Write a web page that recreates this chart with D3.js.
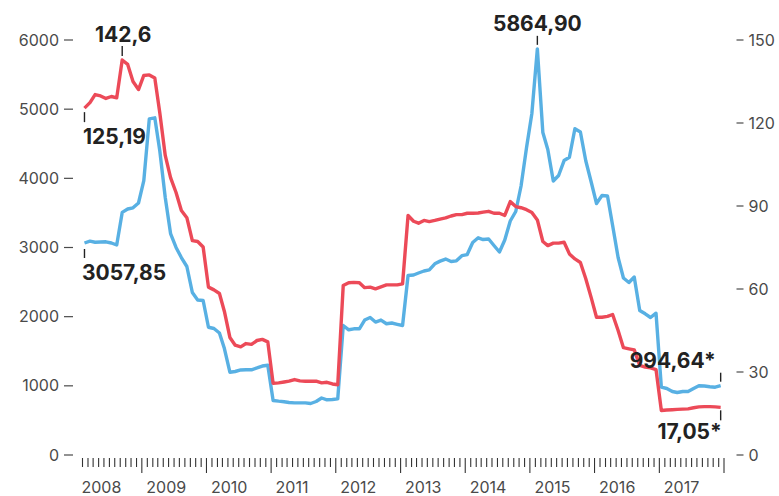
<!DOCTYPE html>
<html>
<head>
<meta charset="utf-8">
<script src="https://cdn.jsdelivr.net/npm/d3@7"></script>
<style>
  html, body { margin: 0; padding: 0; background: #fff; }
  svg { display: block; }
  .tick text { font-family: Inter, "DejaVu Sans", sans-serif; }
</style>
</head>
<body>
<svg id="chart" width="779" height="496"></svg>
<script>
// ---- Data (monthly, Jan 2008 – Nov 2017) ----
const startYear = 2008, startMonth = 0, monthCount = 119;
const years = [2008, 2009, 2010, 2011, 2012, 2013, 2014, 2015, 2016, 2017];
const leftTicks = [0, 1000, 2000, 3000, 4000, 5000, 6000];
const rightTicks = [0, 30, 60, 90, 120, 150];

// Blue series (left axis)
const blueValues = [
  3057.85, 3084, 3069, 3072, 3075, 3058, 3029, 3500, 3549, 3567,
  3636, 3961, 4853, 4868, 4395, 3715, 3195, 2993, 2848, 2718,
  2342, 2234, 2226, 1840, 1822, 1757, 1532, 1190, 1200, 1222,
  1225, 1225, 1251, 1279, 1290, 781, 771, 763, 752, 747,
  747, 747, 737, 766, 817, 791, 795, 805, 1865, 1803,
  1817, 1817, 1944, 1981, 1915, 1944, 1890, 1901, 1882, 1865,
  2588, 2595, 2624, 2653, 2670, 2757, 2796, 2826, 2790, 2800,
  2874, 2891, 3065, 3133, 3108, 3115, 3021, 2928, 3101, 3376,
  3513, 3882, 4438, 4930, 5864.90, 4655, 4409, 3954, 4034, 4250,
  4298, 4709, 4662, 4250, 3940, 3629, 3744, 3737, 3311, 2848,
  2552, 2487, 2566, 2082, 2034, 1981, 2043, 973, 954, 911,
  896, 911, 911, 954, 993, 990, 980, 973, 994.64
];

// Red series (right axis)
const redValues = [
  125.19, 127.2, 130.1, 129.6, 128.7, 129.4, 128.9, 142.6, 141, 134.8,
  131.9, 137, 137.2, 136.1, 123.6, 108.1, 100.1, 94.7, 88.2, 85.6,
  77.3, 77, 75, 60.5, 59.5, 58.2, 51.7, 42.3, 39.5, 38.9,
  40.1, 39.8, 41.2, 41.6, 40.7, 25.7, 25.9, 26.2, 26.5, 27.1,
  26.6, 26.5, 26.5, 26.5, 25.9, 26.1, 25.5, 25.2, 61.1, 62.1,
  62.2, 62.1, 60.3, 60.5, 59.9, 60.6, 61.3, 61.3, 61.3, 61.7,
  86.4, 84.3, 83.6, 84.6, 84.2, 84.6, 85.1, 85.5, 86.2, 86.7,
  86.7, 87.2, 87.2, 87.3, 87.6, 87.9, 87.2, 87.2, 86.4, 91.4,
  89.6, 89.2, 88.5, 87.5, 84.8, 77, 75.5, 76.4, 76.4, 76.7,
  72.5, 70.7, 69.4, 63.6, 56.7, 49.6, 49.6, 49.9, 50.6, 44.8,
  38.6, 38.2, 37.8, 32.2, 31.6, 31.3, 30.7, 15.9, 16.1, 16.2,
  16.3, 16.4, 16.5, 16.9, 17.2, 17.3, 17.3, 17.2, 17.05
];

// Annotation labels
const blueLabels = { start: "3057,85", peak: "5864,90", end: "994,64*" };
const redLabels = { start: "125,19", peak: "142,6", end: "17,05*" };

// ---- Build ----
const dates = d3.range(monthCount).map(i => new Date(startYear, startMonth + i, 15));
const blueData = dates.map((d, i) => ({ date: d, value: blueValues[i] }));
const redData = dates.map((d, i) => ({ date: d, value: redValues[i] }));

const svg = d3.select("#chart");
const BLUE = "#58b0e3", RED = "#ec4a58", TXT = "#222", AX = "#4a4a4a";

const x = d3.scaleTime()
  .domain([new Date(2008, 0, 1), new Date(2017, 11, 1)])
  .range([82, 723.5]);
const yL = d3.scaleLinear().domain([0, 6000]).range([454.5, 39.5]);
const yR = d3.scaleLinear().domain([0, 150]).range([454.5, 39.5]);

// Left axis
const gL = svg.append("g").attr("transform", "translate(73,0)")
  .call(d3.axisLeft(yL).tickValues(leftTicks).tickSize(9).tickPadding(5).tickFormat(d3.format("d")));
gL.select(".domain").remove();
gL.selectAll(".tick line").attr("stroke", AX).attr("stroke-width", 1.2);
gL.selectAll(".tick text").attr("fill", AX).style("font-size", "16px").attr("dy", "0.35em");

// Right axis
const gR = svg.append("g").attr("transform", "translate(736.5,0)")
  .call(d3.axisRight(yR).tickValues(rightTicks).tickSize(7).tickPadding(5).tickFormat(d3.format("d")));
gR.select(".domain").remove();
gR.selectAll(".tick line").attr("stroke", AX).attr("stroke-width", 1.2);
gR.selectAll(".tick text").attr("fill", AX).style("font-size", "16px").attr("dy", "0.35em");

// Bottom axis: monthly ticks, December ticks longer
const monthTicks = d3.timeMonth.range(new Date(2008, 0, 1), new Date(2017, 11, 2));
const gB = svg.append("g").attr("transform", "translate(0,458)")
  .call(d3.axisBottom(x).tickValues(monthTicks).tickSize(9).tickFormat(""));
gB.select(".domain").remove();
gB.selectAll(".tick line")
  .attr("stroke", "#333").attr("stroke-width", 1.1)
  .attr("y2", d => d.getMonth() === 11 ? 15 : 9);

// Year labels
svg.append("g").selectAll("text").data(years).join("text")
  .attr("x", d => x(new Date(d, 0, 1)) - 0.5)
  .attr("y", 493)
  .attr("text-anchor", "start")
  .attr("fill", AX)
  .style("font-family", "Inter, 'DejaVu Sans', sans-serif")
  .style("font-size", "16px")
  .text(d => d);

// Lines
const lineL = d3.line().x(d => x(d.date)).y(d => yL(d.value)).curve(d3.curveLinear);
const lineR = d3.line().x(d => x(d.date)).y(d => yR(d.value)).curve(d3.curveLinear);

svg.append("path").datum(blueData)
  .attr("d", lineL).attr("fill", "none").attr("stroke", BLUE)
  .attr("stroke-width", 3.4).attr("stroke-linejoin", "round");
svg.append("path").datum(redData)
  .attr("d", lineR).attr("fill", "none").attr("stroke", RED)
  .attr("stroke-width", 3.4).attr("stroke-linejoin", "round");

// Annotations
const ann = svg.append("g")
  .style("font-family", "Inter, 'DejaVu Sans', sans-serif")
  .style("font-weight", 700)
  .style("font-size", "21px")
  .attr("fill", TXT);

function annotate(px, py, t1, t2, label, tx, ty, anchor) {
  ann.append("line").attr("x1", px).attr("x2", px)
    .attr("y1", py + t1).attr("y2", py + t2)
    .attr("stroke", TXT).attr("stroke-width", 1.4);
  ann.append("text").attr("x", tx).attr("y", py + ty)
    .attr("text-anchor", anchor).text(label);
}

const iRedPeak = redValues.indexOf(d3.max(redValues));
const iBluePeak = blueValues.indexOf(d3.max(blueValues));
const last = monthCount - 1;

// Red start
{
  const px = x(redData[0].date), py = yR(redData[0].value);
  annotate(px, py, 4, 14, redLabels.start, px - 1.5, 36, "start");
}
// Red peak
{
  const px = x(redData[iRedPeak].date), py = yR(redData[iRedPeak].value);
  annotate(px, py, -14, -4, redLabels.peak, px + 1, -18, "middle");
}
// Blue start
{
  const px = x(blueData[0].date), py = yL(blueData[0].value);
  annotate(px, py, 6, 15, blueLabels.start, px - 2.5, 37.5, "start");
}
// Blue peak
{
  const px = x(blueData[iBluePeak].date), py = yL(blueData[iBluePeak].value);
  annotate(px, py, -13, -4, blueLabels.peak, px, -18, "middle");
}
// Blue end
{
  const px = x(blueData[last].date), py = yL(blueData[last].value);
  annotate(px, py, -13, -4, blueLabels.end, px - 5, -18, "end");
}
// Red end
{
  const px = x(redData[last].date), py = yR(redData[last].value);
  annotate(px, py, 3, 13, redLabels.end, px + 1, 32, "end");
}
</script>
</body>
</html>
